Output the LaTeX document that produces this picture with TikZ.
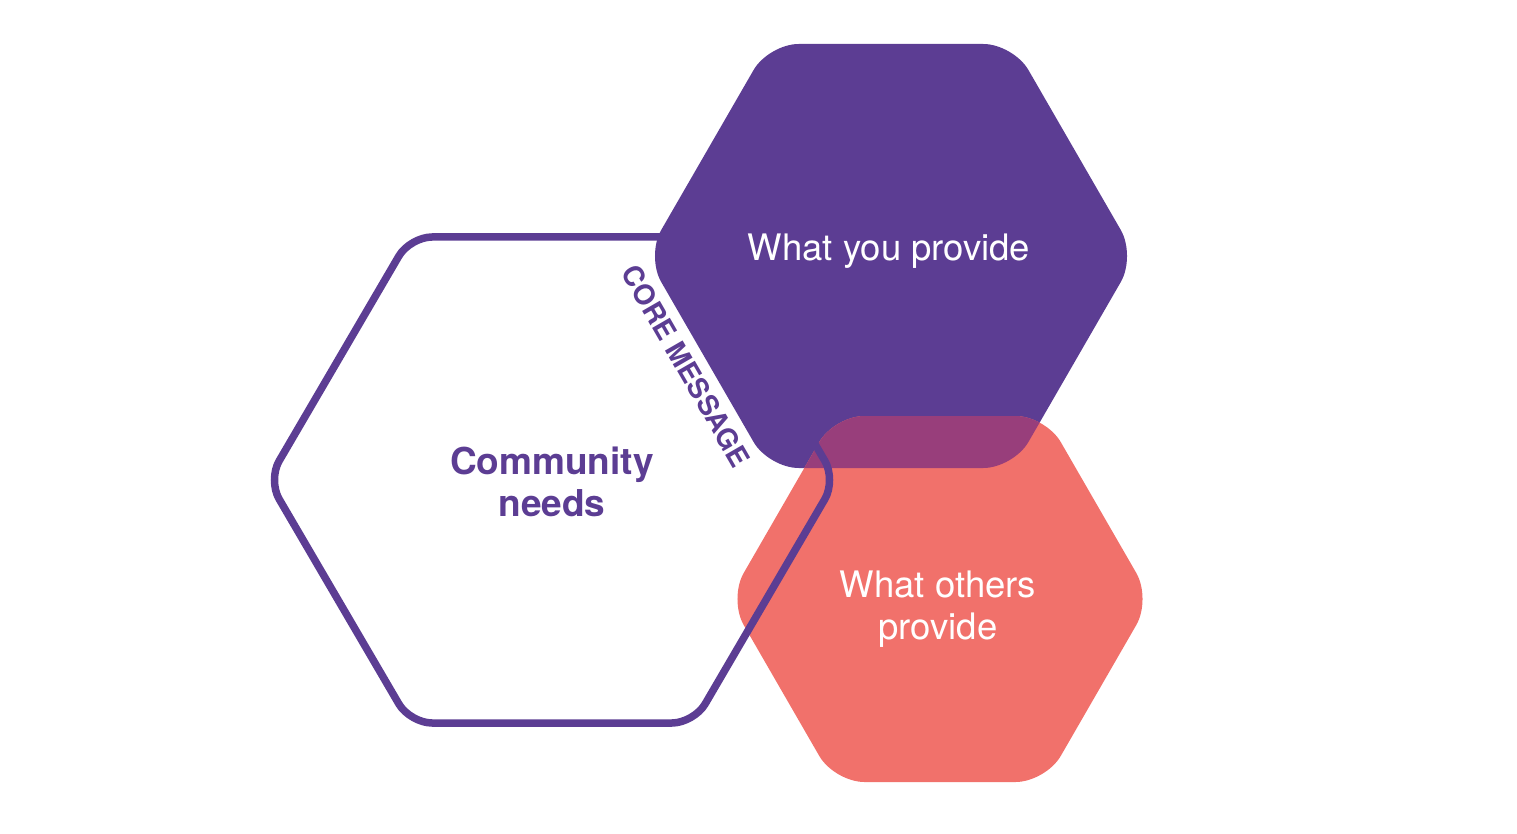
\documentclass[tikz,border=0pt]{standalone}
\usepackage{fontspec}
\setmainfont{TeX Gyre Heros}
\definecolor{hpurple}{HTML}{5C3D93}
\definecolor{hsalmon}{HTML}{F1716B}
\definecolor{hover}{HTML}{983E7B}
\tikzset{
  fillhex/.style={rounded corners=30pt},
  outlinehex/.style={draw=hpurple, line width=7.5pt, rounded corners=22pt},
  whitelabel/.style={text=white, align=center, inner sep=0pt, font=\fontsize{36.5}{42.5}\selectfont},
  purplelabel/.style={text=hpurple, align=center, inner sep=0pt, font=\bfseries\fontsize{37}{42.5}\selectfont},
  corelabel/.style={text=hpurple, inner sep=0pt, font=\bfseries\fontsize{28}{30}\selectfont, rotate=-60}
}
\begin{document}
\begin{tikzpicture}[x=1pt,y=-1pt]
\path[use as bounding box] (0,0) rectangle (1517,834);
% purple hexagon
\fill[hpurple, fillhex] (646.2,256) -- (768.6,44) -- (1013.4,44) -- (1135.8,256) -- (1013.4,468) -- (768.6,468) -- cycle;
% salmon hexagon
\fill[hsalmon, fillhex] (728.7,599) -- (834.3,416) -- (1045.7,416) -- (1151.3,599) -- (1045.7,782) -- (834.3,782) -- cycle;
% overlap
\begin{scope}
\clip[fillhex] (646.2,256) -- (768.6,44) -- (1013.4,44) -- (1135.8,256) -- (1013.4,468) -- (768.6,468) -- cycle;
\fill[hover, fillhex] (728.7,599) -- (834.3,416) -- (1045.7,416) -- (1151.3,599) -- (1045.7,782) -- (834.3,782) -- cycle;
\end{scope}
% outline hexagon
\draw[outlinehex] (268,480) -- (410,237) -- (694,237) -- (836,480) -- (694,723) -- (410,723) -- cycle;
% labels
\node[whitelabel] (you) at (889,251) {What you provide};
\node[whitelabel] (others) at (938,609) {What others\\provide};
\node[purplelabel] (community) at (552,482) {Community\\needs};
\node[corelabel] (core) at (686,366) {CORE MESSAGE};
\end{tikzpicture}
\end{document}
